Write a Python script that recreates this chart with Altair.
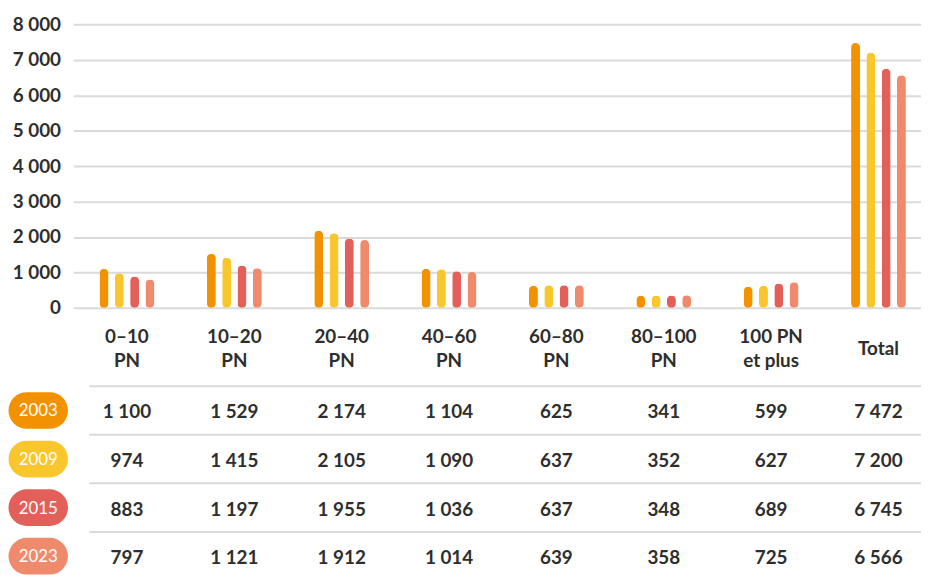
import altair as alt
import pandas as pd

categories = ["0–10|PN", "10–20|PN", "20–40|PN", "40–60|PN", "60–80|PN",
              "80–100|PN", "100 PN|et plus", "Total"]
years = ["2003", "2009", "2015", "2023"]
values_2003 = [1100, 1529, 2174, 1104, 625, 341, 599, 7472]
values_2009 = [974, 1415, 2105, 1090, 637, 352, 627, 7200]
values_2015 = [883, 1197, 1955, 1036, 637, 348, 689, 6745]
values_2023 = [797, 1121, 1912, 1014, 639, 358, 725, 6566]
colors = ["#F39200", "#F9C62B", "#E3605A", "#F08A6C"]
y_ticks = [0, 1000, 2000, 3000, 4000, 5000, 6000, 7000, 8000]

rows = []
for yr, vals in zip(years, [values_2003, values_2009, values_2015, values_2023]):
    for c, v in zip(categories, vals):
        rows.append({"cat": c, "year": yr, "value": v})
df = pd.DataFrame(rows)
yr_df = pd.DataFrame({"year": years})

W, H = 857, 555
FONT = "Lato"
TXT = "#2e2e2e"

x_scale = alt.Scale(domain=categories, range=[1.85, 868.25], paddingInner=0, paddingOuter=0)
x_axis = alt.Axis(orient="bottom", offset=286 - H, title=None, domain=False, ticks=False,
                  labelPadding=29,
                  labelBaseline={"condition": {"test": "indexof(datum.label, '|') < 0",
                                               "value": "line-top"},
                                 "value": "middle"},
                  labelAngle=0, labelOverlap=False,
                  labelExpr="split(datum.label, '|')", labelFont=FONT, labelFontWeight="bold",
                  labelFontSize=19, labelColor=TXT, labelLineHeight=24)
x_enc = alt.X("cat:N", sort=categories, scale=x_scale, axis=x_axis)

color_scale = alt.Scale(domain=years, range=colors)
row_scale = alt.Scale(domain=years, range=[365, 561], paddingInner=0, paddingOuter=0)

bars = alt.Chart(df).mark_bar(cornerRadius=4.5).encode(
    x=x_enc,
    xOffset=alt.XOffset("year:N", sort=years,
                        scale=alt.Scale(range=[26.5, 81.8], paddingInner=0.416, paddingOuter=0)),
    y=alt.Y("value:Q",
            scale=alt.Scale(domain=[0, 8000], range=[286, 0], nice=False),
            axis=alt.Axis(values=y_ticks, title=None, domain=False, ticks=False,
                          labelPadding=11, grid=True, gridColor="#dadada", gridWidth=2,
                          labelExpr="replace(format(datum.value, ','), ',', ' ')",
                          labelFont=FONT, labelFontWeight="bold", labelFontSize=19,
                          labelColor=TXT)),
    color=alt.Color("year:N", scale=color_scale, legend=None),
)

seps = alt.Chart(yr_df).mark_rule(color="#d9d9d9", strokeWidth=2).encode(
    y=alt.Y("year:N", sort=years, scale=row_scale, axis=None, bandPosition=0),
    x=alt.value(18),
    x2=alt.value(W),
)

table = alt.Chart(df).transform_calculate(
    label="replace(format(datum.value, ','), ',', ' ')"
).mark_text(font=FONT, fontWeight="bold", fontSize=19, color=TXT, dy=2).encode(
    x=x_enc,
    y=alt.Y("year:N", sort=years, scale=row_scale, axis=None),
    text="label:N",
)

pills = alt.Chart(yr_df).mark_rule(strokeWidth=37, strokeCap="round").encode(
    y=alt.Y("year:N", sort=years, scale=row_scale, axis=None),
    x=alt.value(-45),
    x2=alt.value(-22),
    color=alt.Color("year:N", scale=color_scale, legend=None),
)

pill_text = alt.Chart(yr_df).mark_text(font=FONT, fontSize=17, color="#ffffff", dy=1).encode(
    y=alt.Y("year:N", sort=years, scale=row_scale, axis=None),
    x=alt.value(-33.5),
    text="year:N",
)

chart = alt.layer(bars, seps, table, pills, pill_text).resolve_scale(
    y="independent"
).properties(
    width=W, height=H,
    padding={"left": 64, "top": 14, "right": 0, "bottom": 0},
    autosize=alt.AutoSizeParams(type="none"),
).configure_view(stroke=None)

chart.save("out.html", embed_options={"renderer": "svg", "actions": False})
